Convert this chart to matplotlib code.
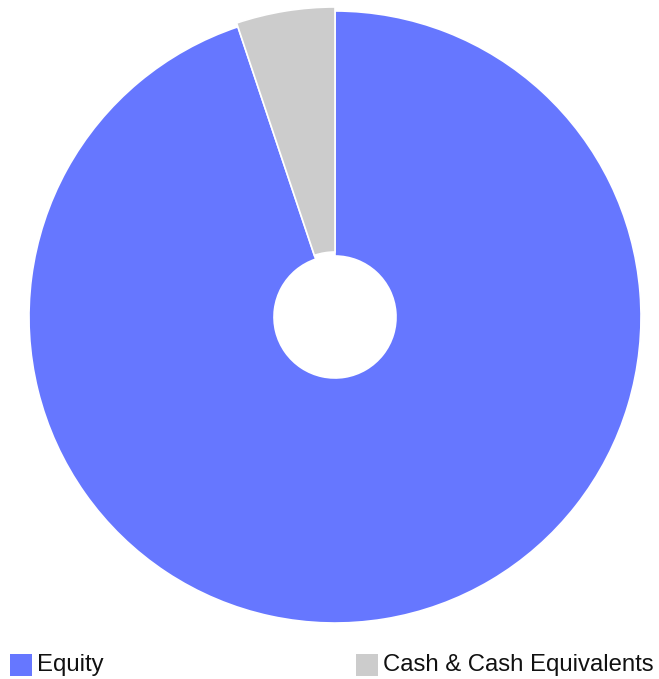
import matplotlib
matplotlib.use("Agg")
import matplotlib.pyplot as plt
from matplotlib.patches import Rectangle

labels = ["Equity", "Cash & Cash Equivalents"]
values = [94.86, 5.14]
colors = ["#6677FF", "#CCCCCC"]

W, H = 659, 679
fig = plt.figure(figsize=(W / 100, H / 100), dpi=100)
cx, cy = 335, H - 317
half = 320
ax = fig.add_axes([(cx - half) / W, (cy - half) / H, 2 * half / W, 2 * half / H])

wedges, _ = ax.pie(values, colors=colors, startangle=90, counterclock=False,
                   radius=306, wedgeprops=dict(width=245, edgecolor="white", linewidth=1.2))
# highlighted (enlarged) second slice
wedges[1].set_radius(310)
wedges[1].set_width(245)
ax.set_xlim(-half, half)
ax.set_ylim(-half, half)
ax.set_aspect("equal")
ax.axis("off")

legend_x = [10, 356]
for lx, lab, col in zip(legend_x, labels, colors):
    fig.patches.append(Rectangle((lx / W, (H - 676) / H), 22 / W, 22 / H,
                                 transform=fig.transFigure, facecolor=col, edgecolor="none"))
    fig.text((lx + 27) / W, (H - 665) / H, lab, fontsize=17.2, family="Liberation Sans",
             va="center", ha="left", color="#111111")

fig.savefig("out.png", dpi=100)
